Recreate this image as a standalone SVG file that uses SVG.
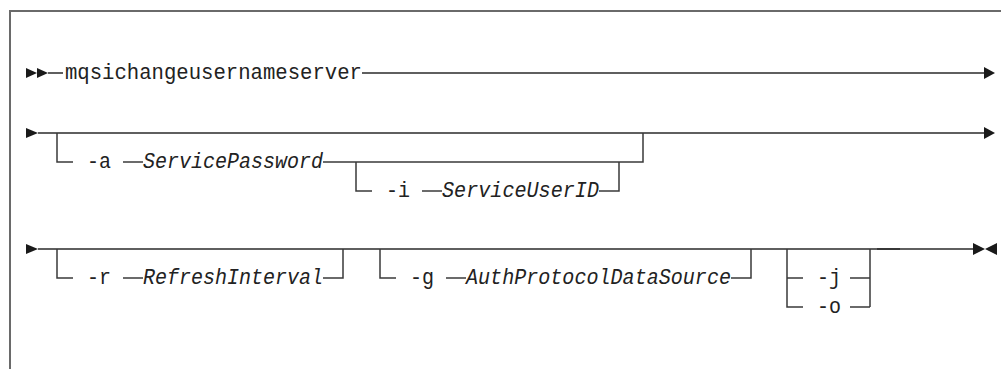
<svg xmlns="http://www.w3.org/2000/svg" width="1001" height="369" viewBox="0 0 1001 369">
<style>
.frame{fill:none;stroke:#6a6a6a;stroke-width:2}
.ln{fill:none;stroke:#2a2a2a;stroke-width:1.5}
.br{fill:none;stroke:#3a3a3a;stroke-width:1.5}
.ah{fill:#1a1a1a}
.kw{font-family:"Liberation Mono","DejaVu Sans Mono",monospace;font-size:22px;fill:#222}
.var{font-family:"Liberation Mono","DejaVu Sans Mono",monospace;font-size:22px;font-style:italic;fill:#222}
</style>
<rect width="1001" height="369" fill="#fff"/>
<path class="frame" d="M10,369 V11 H1001"/>
<g id="connectors">
  <polygon class="ah" points="26,68 37,73 26,78"/>
  <polygon class="ah" points="37,68 48,73 37,78"/>
  <path class="ln" d="M48,73 H63"/>
  <path class="ln" d="M362,73 H985"/>
  <polygon class="ah" points="984,67 995,73 984,79"/>
  <polygon class="ah" points="26,128 38,133 26,138"/>
  <path class="ln" d="M38,133 H985"/>
  <polygon class="ah" points="984,127 995,133 984,139"/>
  <path class="br" d="M57,133 V162 H73"/>
  <path class="br" d="M123,162 H143"/>
  <path class="br" d="M323,162 H643 V133"/>
  <path class="br" d="M356,162 V191 H372"/>
  <path class="br" d="M422,191 H442"/>
  <path class="br" d="M599,191 H619 V162"/>
  <polygon class="ah" points="26,244 38,249 26,254"/>
  <path class="ln" d="M38,249 H973"/>
  <path class="ln" d="M877,249 H900" stroke-width="2.5"/>
  <polygon class="ah" points="973,243 985,249 973,255"/>
  <polygon class="ah" points="997,243 985,249 997,255"/>
  <path class="br" d="M57,249 V278 H73"/>
  <path class="br" d="M123,278 H143"/>
  <path class="br" d="M323,278 H343 V249"/>
  <path class="br" d="M380,249 V278 H396"/>
  <path class="br" d="M446,278 H466"/>
  <path class="br" d="M731,278 H751 V249"/>
  <path class="br" d="M787,249 V307 H803 M787,278 H803"/>
  <path class="br" d="M850,278 H870 M850,307 H870 M870,249 V307"/>
</g>
<g id="cmd"><text class="kw" x="65" y="79" textLength="297" lengthAdjust="spacingAndGlyphs">mqsichangeusernameserver</text></g>
<g id="opt-a"><text class="kw" x="87" y="168" textLength="24" lengthAdjust="spacingAndGlyphs">-a</text><text class="var" x="143" y="168" textLength="180" lengthAdjust="spacingAndGlyphs">ServicePassword</text></g>
<g id="opt-i"><text class="kw" x="386" y="197" textLength="24" lengthAdjust="spacingAndGlyphs">-i</text><text class="var" x="442" y="197" textLength="157" lengthAdjust="spacingAndGlyphs">ServiceUserID</text></g>
<g id="opt-r"><text class="kw" x="87" y="284" textLength="24" lengthAdjust="spacingAndGlyphs">-r</text><text class="var" x="143" y="284" textLength="180" lengthAdjust="spacingAndGlyphs">RefreshInterval</text></g>
<g id="opt-g"><text class="kw" x="410" y="284" textLength="24" lengthAdjust="spacingAndGlyphs">-g</text><text class="var" x="466" y="284" textLength="265" lengthAdjust="spacingAndGlyphs">AuthProtocolDataSource</text></g>
<g id="opt-j"><text class="kw" x="817" y="284" textLength="24" lengthAdjust="spacingAndGlyphs">-j</text></g>
<g id="opt-o"><text class="kw" x="817" y="313" textLength="24" lengthAdjust="spacingAndGlyphs">-o</text></g>
</svg>
